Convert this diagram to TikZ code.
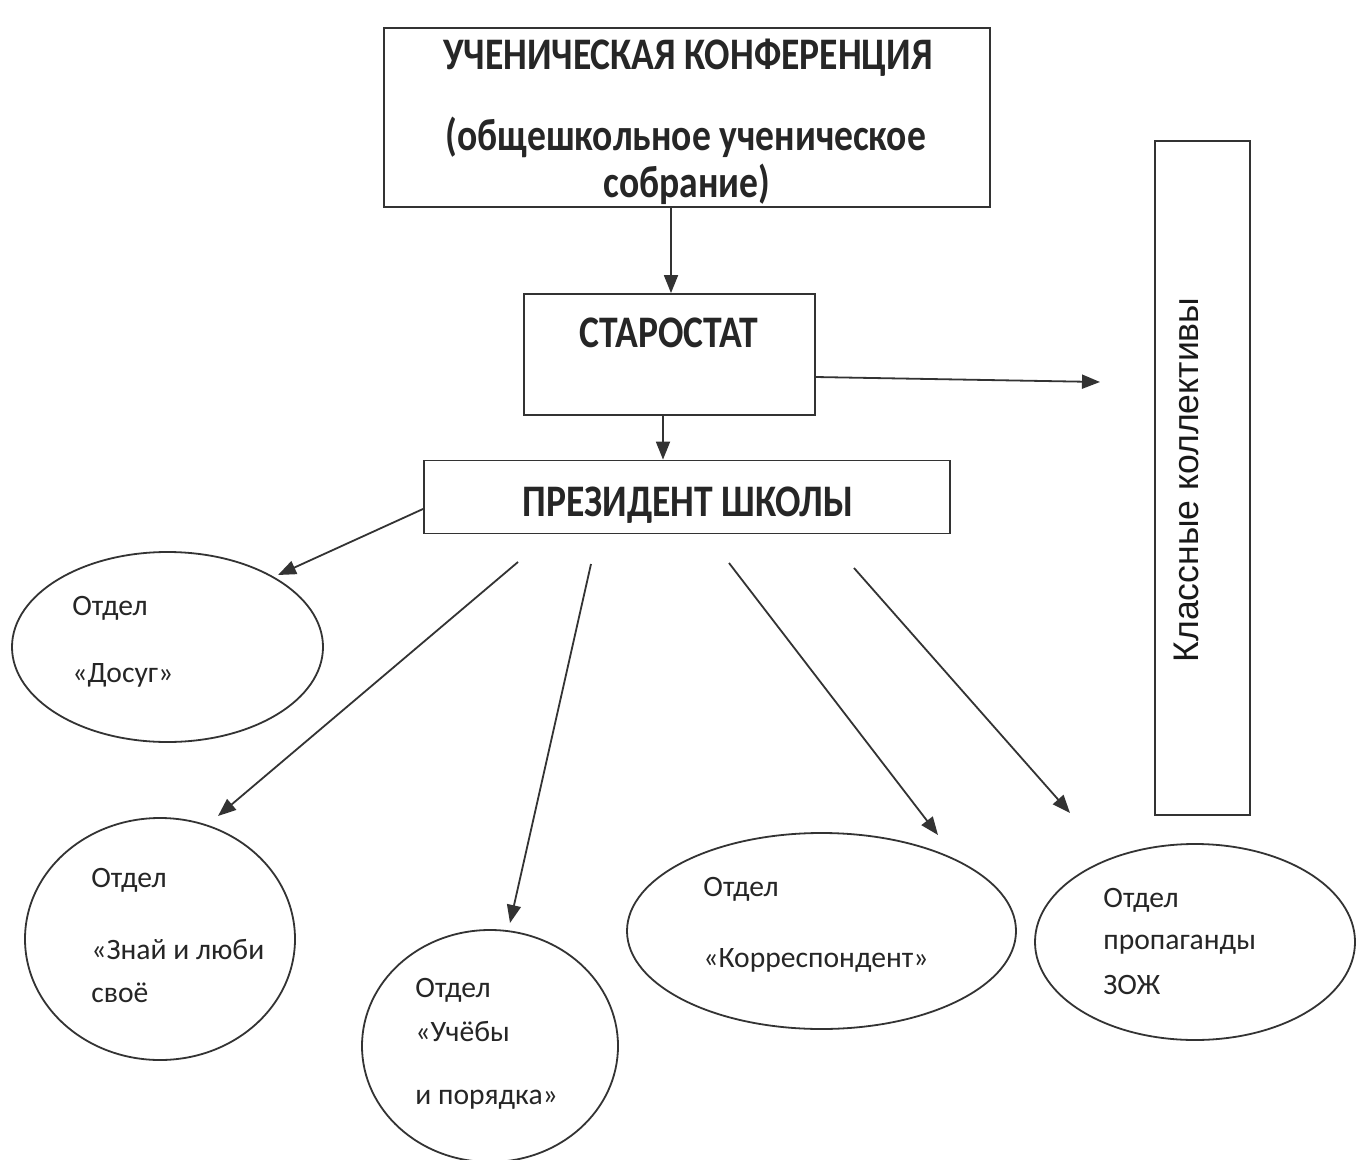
\documentclass[tikz,border=0pt]{standalone}
\usepackage{fontspec}
\usepackage{graphicx}
\setmainfont{Carlito}
\newfontfamily\arialfont{Liberation Sans}
\newcommand{\tallbox}[1]{\scalebox{1}[1.2]{#1}}
\usetikzlibrary{shapes.geometric,arrows.meta}
\begin{document}
\begin{tikzpicture}[x=0.5pt,y=-0.5pt,
  box/.style={draw=black!80,line width=0.9pt,rectangle,inner sep=0pt},
  oval/.style={draw=black!80,line width=0.9pt,ellipse,inner sep=0pt},
  conn/.style={draw=black!80,line width=0.9pt,-{Triangle[length=9pt,width=7pt]}},
  boldtxt/.style={font=\bfseries\fontsize{18.8}{20}\selectfont,text=black!85,inner sep=0pt},
  otdtxt/.style={font=\fontsize{14.8}{17}\selectfont,text=black!85,inner sep=0pt,anchor=west}]
\useasboundingbox (0,0) rectangle (1359,1160);
\fill[white] (0,0) rectangle (1359,1160);
% boxes
\node[box,minimum width=303pt,minimum height=89.5pt] (conf) at (687,117.5) {};
\node[boldtxt] (conf1) at (688,58) {\tallbox{УЧЕНИЧЕСКАЯ КОНФЕРЕНЦИЯ}};
\node[boldtxt] (conf2) at (686,137) {\tallbox{(общешкольное ученическое}};
\node[boldtxt] (conf3) at (687,184) {\tallbox{собрание)}};
\node[box,minimum width=145.5pt,minimum height=60.5pt] (star) at (669.5,354.5) {};
\node[boldtxt] (startxt) at (669,333) {\tallbox{СТАРОСТАТ}};
\node[box,minimum width=263pt,minimum height=36.5pt] (pres) at (687,497) {};
\node[boldtxt] (prestxt) at (688,505) {\tallbox{ПРЕЗИДЕНТ ШКОЛЫ}};
\node[box,minimum width=47.5pt,minimum height=337pt] (klass) at (1202.5,478) {};
\node[font=\arialfont\fontsize{17.8}{20}\selectfont,text=black!90,inner sep=0pt,rotate=90] (klasstxt) at (1186,480) {Классные коллективы};
% ellipses
\node[oval,minimum width=155.5pt,minimum height=95pt] (dosug) at (167.5,647) {};
\node[oval,minimum width=135pt,minimum height=121pt] (znai) at (160,939) {};
\node[oval,minimum width=128pt,minimum height=116pt] (ucheba) at (490,1046) {};
\node[oval,minimum width=194.5pt,minimum height=98pt] (korr) at (821.5,931) {};
\node[oval,minimum width=160pt,minimum height=98pt] (zozh) at (1195,942) {};
% texts in ellipses
\node[otdtxt] (d1) at (72,608) {Отдел};
\node[otdtxt] (d2) at (72,675) {«Досуг»};
\node[otdtxt] (z1) at (91,880) {Отдел};
\node[otdtxt] (z2) at (91,950) {«Знай и люби};
\node[otdtxt] (z3) at (91,993) {своё};
\node[otdtxt] (u1) at (415,990) {Отдел};
\node[otdtxt] (u2) at (415,1032) {«Учёбы};
\node[otdtxt] (u3) at (415,1100) {и порядка»};
\node[otdtxt] (k1) at (703,889) {Отдел};
\node[otdtxt] (k2) at (703,960) {«Корреспондент»};
\node[otdtxt] (p1) at (1103,900) {Отдел};
\node[otdtxt] (p2) at (1103,945) {пропаганды};
\node[otdtxt] (p3) at (1103,985) {ЗОЖ};
% connector end points
\coordinate (s1) at (423,509);
\coordinate (t1) at (278,575);
\coordinate (s2) at (518,562);
\coordinate (t2) at (218,816);
\coordinate (s3) at (591,564);
\coordinate (t3) at (510,923);
\coordinate (s4) at (729,563);
\coordinate (t4) at (938,835);
\coordinate (s5) at (854,568);
\coordinate (t5) at (1070,813);
\coordinate (sr) at (815,377);
\coordinate (tr) at (1100,382);
% connectors
\draw[conn] (conf.south -| 671,0) -- (star.north -| 671,0);
\draw[conn] (star.south -| 663,0) -- (pres.north -| 663,0);
\draw[conn] (sr) -- (tr);
\draw[conn] (s1) -- (t1);
\draw[conn] (s2) -- (t2);
\draw[conn] (s3) -- (t3);
\draw[conn] (s4) -- (t4);
\draw[conn] (s5) -- (t5);
\end{tikzpicture}
\end{document}
